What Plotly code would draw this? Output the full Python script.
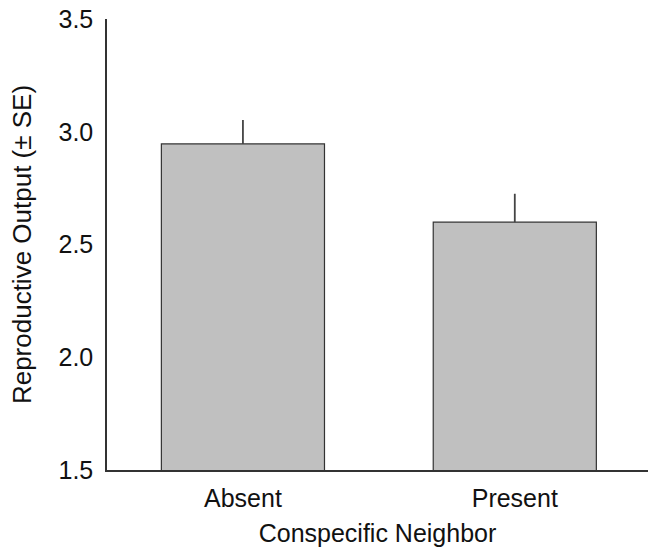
import plotly.graph_objects as go

categories = ["Absent", "Present"]
means = [2.946, 2.599]
se = [0.106, 0.126]
tick_vals = [1.5, 2.0, 2.5, 3.0, 3.5]
tick_text = ["1.5", "2.0", "2.5", "3.0", "3.5"]

FONT = "Liberation Sans, Arial, sans-serif"
fig = go.Figure()
fig.add_trace(go.Bar(
    x=categories, y=means,
    width=0.6,
    marker=dict(color="#c0c0c0", line=dict(color="#333333", width=1.2)),
    error_y=dict(type="data", array=se, arrayminus=[0] * len(se), symmetric=False,
                 width=0, thickness=1.8, color="#444444"),
))
fig.update_layout(
    width=648, height=553,
    margin=dict(l=107, r=0, t=19, b=83),
    paper_bgcolor="white", plot_bgcolor="white",
    showlegend=False,
    font=dict(family=FONT, size=25, color="#111111"),
    xaxis=dict(
        range=[-0.5, 1.49], showline=True, linecolor="#333333", linewidth=1.5,
        showgrid=False, zeroline=False, ticks="", ticklabelstandoff=5,
        tickfont=dict(size=25),
        title=dict(text="Conspecific Neighbor", font=dict(size=25), standoff=14),
    ),
    yaxis=dict(
        range=[1.5, 3.5], showline=True, linecolor="#333333", linewidth=1.5,
        showgrid=False, zeroline=False, ticks="", ticklabelstandoff=7,
        tickvals=tick_vals, ticktext=tick_text, tickfont=dict(size=25),
        title=dict(text="Reproductive Output (± SE)", font=dict(size=26), standoff=19),
    ),
)
fig.write_html("out.html")
